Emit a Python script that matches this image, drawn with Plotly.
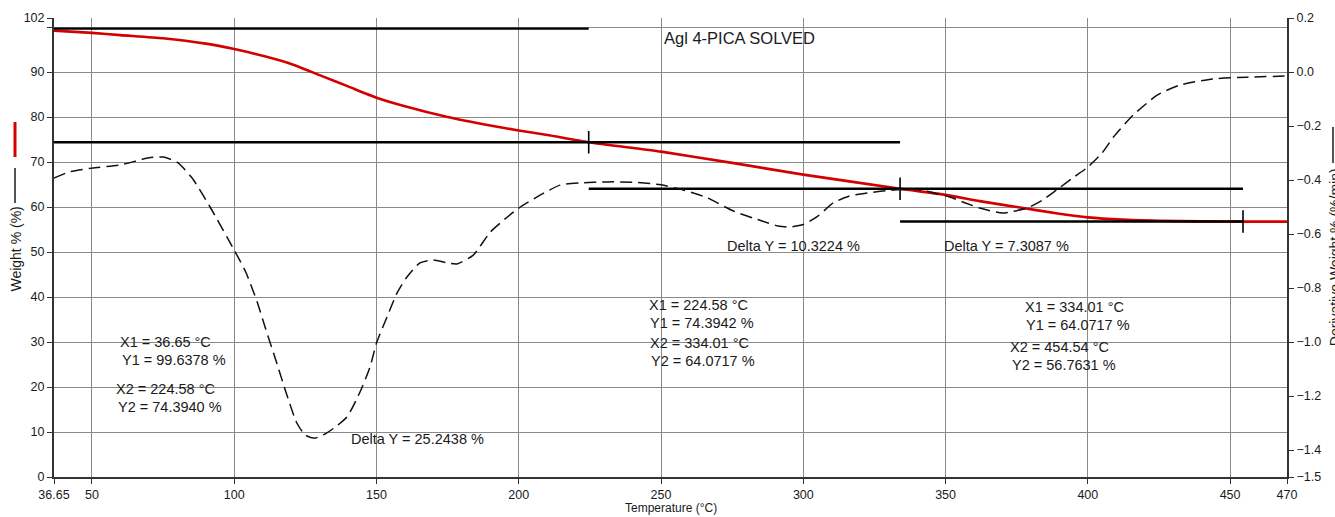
import plotly.graph_objects as go

# ---- TGA weight curve (left axis, %) ----
temp_w = [36.65, 50, 60, 75, 90, 100, 110, 120, 130, 140, 150, 160, 175, 190, 200, 210,
          224.58, 250, 275, 300, 334.01, 350, 362, 375, 390, 400, 412, 425, 440, 454.54, 470]
weight = [99.2, 98.7, 98.2, 97.5, 96.3, 95.1, 93.6, 91.8, 89.3, 86.8, 84.3, 82.4, 80.0, 78.1,
          77.0, 76.0, 74.39, 72.3, 69.8, 67.2, 64.07, 62.7, 61.3, 60.0, 58.5, 57.7, 57.2,
          56.95, 56.8, 56.76, 56.76]

# ---- Derivative weight curve (right axis, %/min) ----
temp_d = [36.65, 42, 50, 60, 70, 75, 80, 85, 91.5, 100, 104, 108, 111, 115, 118.3, 122, 125,
          128.4, 132, 135, 139.6, 144.2, 147.7, 150, 153.7, 157.2, 160.7, 165.3, 170, 174.8,
          178.3, 184, 190, 196, 200, 207.5, 214.5, 221.5, 231, 240, 250, 257.8, 266, 275.4,
          285, 291, 295, 300, 305, 310.5, 316, 322.5, 331.6, 340, 351.4, 357, 362, 370,
          378.6, 384, 389, 395, 400, 405, 409, 416, 424.5, 432.5, 444, 456, 470]
deriv = [-0.393, -0.37, -0.356, -0.344, -0.318, -0.315, -0.335, -0.39, -0.50, -0.66, -0.74,
         -0.85, -0.95, -1.08, -1.19, -1.30, -1.345, -1.356, -1.34, -1.319, -1.278, -1.185,
         -1.093, -1.004, -0.907, -0.819, -0.759, -0.707, -0.696, -0.707, -0.711, -0.678,
         -0.593, -0.537, -0.504, -0.456, -0.419, -0.411, -0.407, -0.408, -0.418, -0.437,
         -0.465, -0.515, -0.55, -0.57, -0.574, -0.565, -0.535, -0.485, -0.46, -0.448,
         -0.437, -0.435, -0.463, -0.485, -0.504, -0.522, -0.504, -0.475, -0.437, -0.39,
         -0.352, -0.30, -0.241, -0.159, -0.085, -0.048, -0.026, -0.019, -0.015]

# ---- Step analyses ----
step_x1 = [36.65, 224.58, 334.01]
step_x2 = [224.58, 334.01, 454.54]
step_y1 = [99.6378, 74.3942, 64.0717]
step_y2 = [74.3940, 64.0717, 56.7631]
delta_y = [25.2438, 10.3224, 7.3087]

# ---- Axis ticks ----
x_ticks = [36.65, 50, 100, 150, 200, 250, 300, 350, 400, 450, 470]
x_tick_text = ["36.65", "50", "100", "150", "200", "250", "300", "350", "400", "450", "470"]
y_ticks = [0, 10, 20, 30, 40, 50, 60, 70, 80, 90, 100, 102]
y_tick_text = ["0", "10", "20", "30", "40", "50", "60", "70", "80", "90", "", "102"]
y2_ticks = [0.2, 0.0, -0.2, -0.4, -0.6, -0.8, -1.0, -1.2, -1.4, -1.5]

title_text = "Agl 4-PICA SOLVED"

FONT = "Liberation Sans, Arial, sans-serif"
TXT = "#1a1a1a"

fig = go.Figure()

fig.add_trace(go.Scatter(x=temp_w, y=weight, mode="lines",
                         line=dict(color="#d40000", width=2.6, shape="spline", smoothing=0.6),
                         yaxis="y", hoverinfo="skip", showlegend=False))

fig.add_trace(go.Scatter(x=temp_d, y=deriv, mode="lines",
                         line=dict(color="#111111", width=1.5, dash="12px,6px", shape="spline", smoothing=0.6),
                         yaxis="y2", hoverinfo="skip", showlegend=False))

# horizontal step lines
hx, hy = [], []
for x1, x2, y1, y2 in zip(step_x1, step_x2, step_y1, step_y2):
    hx += [x1, x2, None, x1, x2, None]
    hy += [y1, y1, None, y2, y2, None]
fig.add_trace(go.Scatter(x=hx, y=hy, mode="lines", line=dict(color="#000000", width=2.4),
                         yaxis="y", hoverinfo="skip", showlegend=False))

# vertical cursor marks
vx, vy = [], []
for x2, y2 in zip(step_x2, step_y2):
    vx += [x2, x2, None]
    vy += [y2 - 2.5, y2 + 2.5, None]
fig.add_trace(go.Scatter(x=vx, y=vy, mode="lines", line=dict(color="#000000", width=1.6),
                         yaxis="y", hoverinfo="skip", showlegend=False))

annotations = []
def txt(x, y, s, size=14.5):
    annotations.append(dict(x=x, y=y, xref="x", yref="y", text=s, showarrow=False,
                            xanchor="left", yanchor="middle",
                            font=dict(family=FONT, size=size, color=TXT)))

# title
txt(250.3, 97.6, title_text, size=16.5)

# step labels
label_pos = [
    [(59.1, 30.0), (59.8, 26.0), (57.7, 19.6), (58.4, 15.6)],
    [(245.1, 38.2), (245.4, 34.2), (245.4, 29.8), (245.8, 25.8)],
    [(377.2, 37.8), (377.6, 33.8), (372.0, 28.9), (372.7, 24.9)],
]
delta_pos = [(140.3, 8.4), (272.5, 51.3), (348.8, 51.3)]
for i in range(3):
    p = label_pos[i]
    txt(p[0][0], p[0][1], f"X1 = {step_x1[i]:.2f} °C")
    txt(p[1][0], p[1][1], f"Y1 = {step_y1[i]:.4f} %")
    txt(p[2][0], p[2][1], f"X2 = {step_x2[i]:.2f} °C")
    txt(p[3][0], p[3][1], f"Y2 = {step_y2[i]:.4f} %")
    txt(delta_pos[i][0], delta_pos[i][1], f"Delta Y = {delta_y[i]:.4f} %")

# axis titles
annotations.append(dict(x=0.5, y=-0.0675, xref="paper", yref="paper", text="Temperature (°C)",
                        showarrow=False, xanchor="center", yanchor="middle",
                        font=dict(family=FONT, size=12, color=TXT)))
annotations.append(dict(x=-0.0316, y=0.4956, xref="paper", yref="paper",
                        text="Weight % (%)",
                        textangle=-90, showarrow=False, xanchor="center", yanchor="middle",
                        font=dict(family=FONT, size=14, color=TXT)))
annotations.append(dict(x=1.039, y=0.479, xref="paper", yref="paper",
                        text="Derivative Weight % (%/min)",
                        textangle=-90, showarrow=False, xanchor="center", yanchor="middle",
                        font=dict(family=FONT, size=14, color=TXT)))

# legend marks beside the axis titles (pixel -> paper conversion)
PW, PH, L, T = 1233.0, 459.0, 54.0, 18.0
def px(xp): return (xp - L) / PW
def py(yp): return (T + PH - yp) / PH
shapes = [
    dict(type="line", xref="paper", yref="paper", x0=px(15), x1=px(15), y0=py(122), y1=py(157),
         line=dict(color="#d40000", width=3)),
    dict(type="line", xref="paper", yref="paper", x0=px(15), x1=px(15), y0=py(168), y1=py(203),
         line=dict(color="#1a1a1a", width=1.5)),
    dict(type="line", xref="paper", yref="paper", x0=px(1333), x1=px(1333), y0=py(127), y1=py(163),
         line=dict(color="#1a1a1a", width=1.5)),
]

tickfont = dict(family=FONT, size=12.5, color=TXT)

fig.update_layout(
    width=1335, height=517,
    margin=dict(l=54, r=48, t=18, b=40),
    paper_bgcolor="white", plot_bgcolor="white",
    showlegend=False,
    annotations=annotations,
    shapes=shapes,
    xaxis=dict(range=[36.65, 470], tickvals=x_ticks, ticktext=x_tick_text, tickfont=tickfont,
               showgrid=True, gridcolor="#8a8a8a", gridwidth=1,
               showline=True, linecolor="#333333", linewidth=2,
               ticks="outside", ticklen=5, tickcolor="#333333", zeroline=False),
    yaxis=dict(range=[0, 102], tickvals=y_ticks, ticktext=y_tick_text, tickfont=tickfont,
               showgrid=True, gridcolor="#8a8a8a", gridwidth=1,
               showline=True, linecolor="#333333", linewidth=2,
               ticks="outside", ticklen=5, tickcolor="#333333", zeroline=False),
    yaxis2=dict(range=[-1.5, 0.2], overlaying="y", side="right", tickvals=y2_ticks,
                tickformat=".1f", tickfont=tickfont, showgrid=False,
                showline=True, linecolor="#333333", linewidth=2,
                ticks="outside", ticklen=5, tickcolor="#333333", zeroline=False),
)

fig.write_html("out.html")
